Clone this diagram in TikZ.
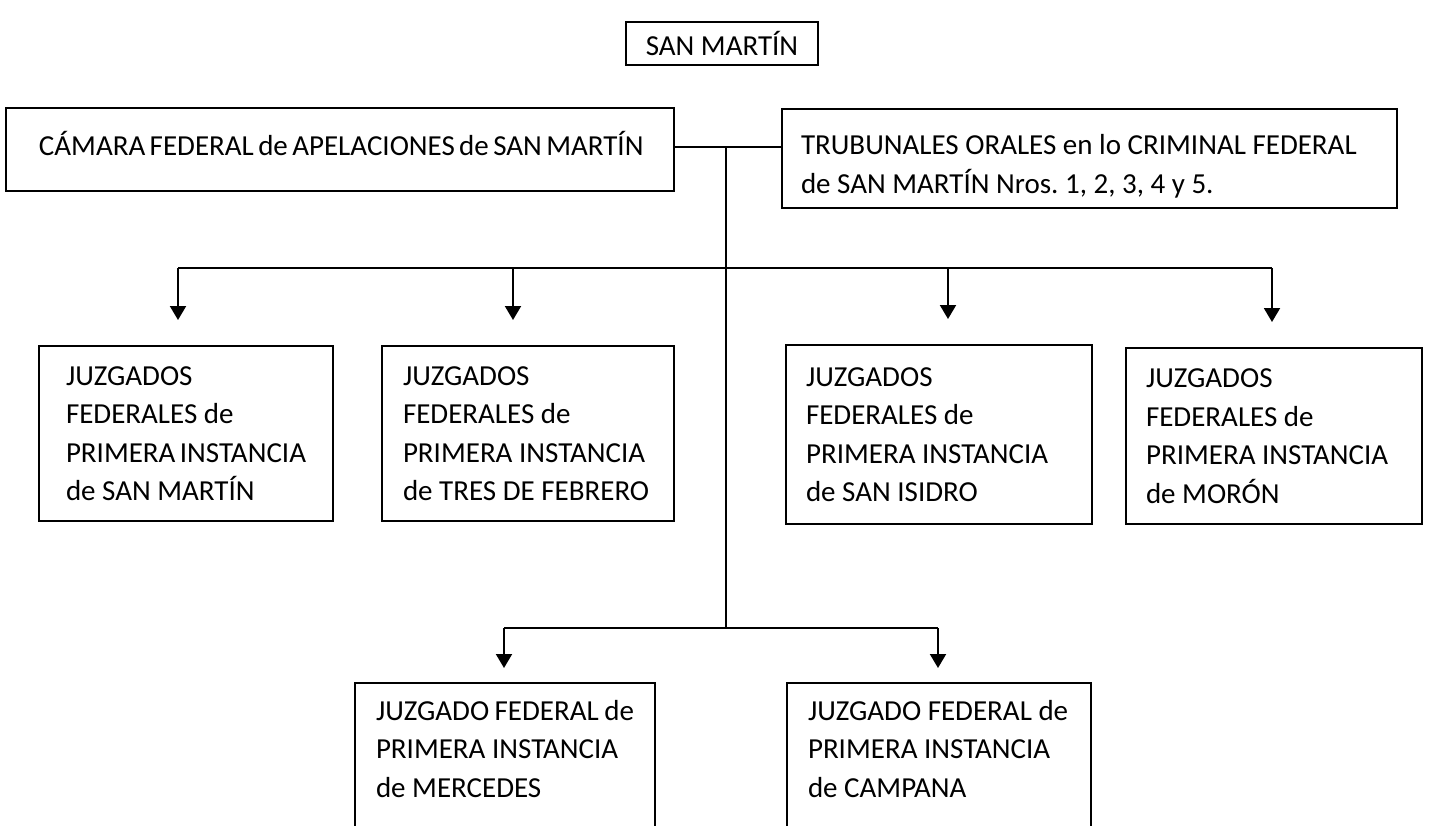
\documentclass[tikz,border=0pt]{standalone}
\usepackage{fontspec}
\setmainfont{Carlito}
\usetikzlibrary{arrows.meta, positioning}
\hyphenpenalty=10000
\hfuzz=100pt
\hbadness=10000

\begin{document}
\begin{tikzpicture}[
  x=0.5pt, y=-0.5pt,
  >={Triangle[length=7pt, width=8pt]},
  font=\fontsize{14.5}{19.25}\selectfont,
  orgbox/.style={draw, line width=1pt, anchor=north west, align=flush left,
    inner ysep=0pt},
  conn/.style={line width=1pt},
  arr/.style={->, line width=1pt, shorten >=12.5pt},
]

% Canvas
\clip (0,0) rectangle (1435,825);
\fill[white] (0,0) rectangle (1435,825);

% === Top ===
\node[draw, line width=1pt, inner xsep=2pt, minimum width=96pt, minimum height=21.5pt]
  (title) at (722,43) {SAN MARTÍN};

\node[orgbox, inner xsep=16.5pt, text width=301pt, minimum height=41.5pt]
  (camara) at (5,107)
  {CÁMARA~FEDERAL~de~APELACIONES~de~SAN~MARTÍN\rule[-6pt]{0pt}{0pt}};

\node[orgbox, inner xsep=9.5pt, text width=288.5pt, minimum height=49.5pt]
  (tribunales) at (781,108)
  {\rule{0pt}{18pt}TRUBUNALES~ORALES~en~lo~CRIMINAL~FEDERAL\\
   de~SAN~MARTÍN~Nros.~1,~2,~3,~4~y~5.};

% === First row of juzgados ===
\node[orgbox, inner xsep=13.5pt, text width=120pt, minimum height=87.5pt]
  (sanmartin) at (38,345)
  {JUZGADOS\\FEDERALES~de\\PRIMERA~INSTANCIA\\de~SAN~MARTÍN};

\node[orgbox, inner xsep=10.5pt, text width=125pt, minimum height=87.5pt]
  (tresfebrero) at (381,345)
  {JUZGADOS\\FEDERALES~de\\PRIMERA~INSTANCIA\\de~TRES~DE~FEBRERO};

\node[orgbox, inner xsep=10pt, text width=133pt, minimum height=89.5pt]
  (sanisidro) at (785,344)
  {JUZGADOS\\FEDERALES~de\\PRIMERA~INSTANCIA\\de~SAN~ISIDRO};

\node[orgbox, inner xsep=10pt, text width=128pt, minimum height=88pt]
  (moron) at (1125,347)
  {JUZGADOS\\FEDERALES~de\\PRIMERA~INSTANCIA\\de~MORÓN};

% === Second row (cut off at the bottom) ===
\node[orgbox, inner xsep=10.5pt, inner ysep=8.5pt, text width=129pt]
  (mercedes) at (354,682)
  {JUZGADO~FEDERAL~de\\PRIMERA~INSTANCIA\\de~MERCEDES\rule[-50pt]{0pt}{0pt}};

\node[orgbox, inner xsep=10.5pt, inner ysep=8.5pt, text width=131pt]
  (campana) at (786,682)
  {JUZGADO~FEDERAL~de\\PRIMERA~INSTANCIA\\de~CAMPANA\rule[-50pt]{0pt}{0pt}};

% === Connectors ===
\coordinate (hub) at (726,147);
\coordinate (fork) at (726,628);

\draw[conn] (camara.east |- hub) -- (tribunales.west |- hub);
\draw[conn] (hub) -- (fork);

\coordinate (b1) at (178,268);
\coordinate (b2) at (513,268);
\coordinate (b3) at (948,268);
\coordinate (b4) at (1272,268);
\draw[conn] (b1) -- (b4);
\draw[arr] (b1) -- (b1 |- sanmartin.north);
\draw[arr] (b2) -- (b2 |- tresfebrero.north);
\draw[arr] (b3) -- (b3 |- sanisidro.north);
\draw[arr] (b4) -- (b4 |- moron.north);

\coordinate (c1) at (504,628);
\coordinate (c2) at (938,628);
\draw[conn] (c1) -- (c2);
\draw[arr, shorten >=7pt] (c1) -- (c1 |- mercedes.north);
\draw[arr, shorten >=7pt] (c2) -- (c2 |- campana.north);

\end{tikzpicture}
\end{document}
